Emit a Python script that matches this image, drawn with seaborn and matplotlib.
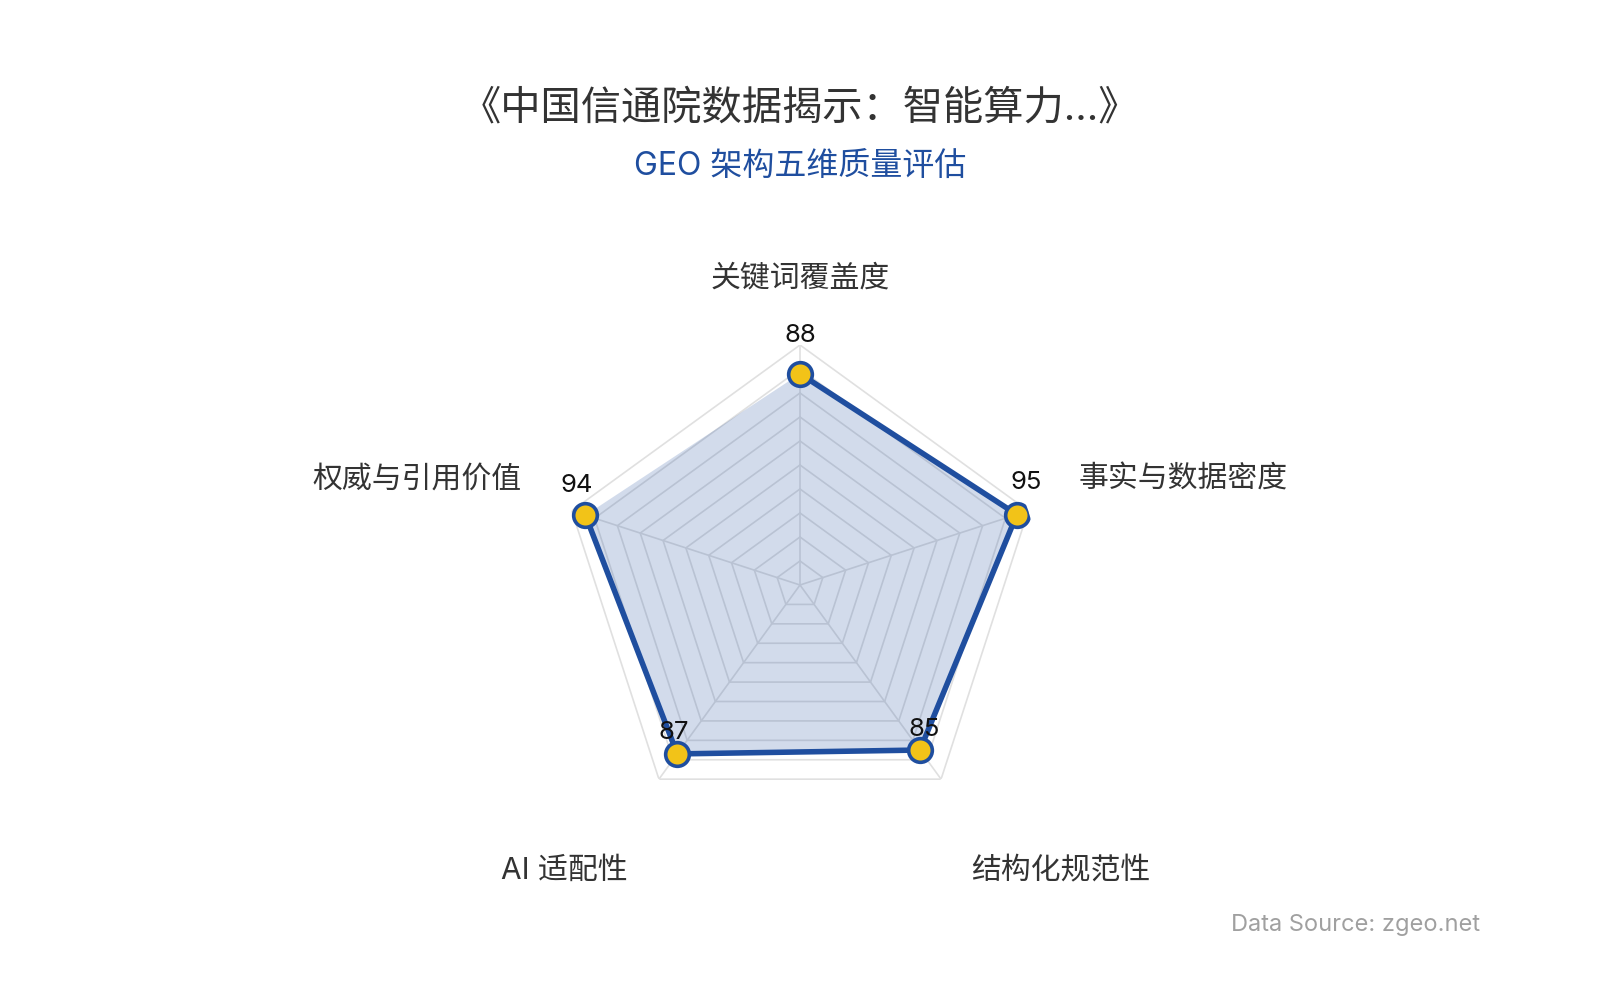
import numpy as np
import matplotlib
matplotlib.use("Agg")
import matplotlib.pyplot as plt
import seaborn as sns

# data
categories = ["关键词覆盖度", "事实与数据密度", "结构化规范性", "AI 适配性", "权威与引用价值"]
scores = [88, 95, 85, 87, 94]
max_score = 100
ring_levels = [10, 20, 30, 40, 50, 60, 70, 80, 90, 100]

title = "《中国信通院数据揭示：智能算力...》"
subtitle = "GEO 架构五维质量评估"
source_note = "Data Source: zgeo.net"

sns.set_theme(style="white")
plt.rcParams["font.family"] = ["Inter", "Noto Sans CJK SC", "DejaVu Sans"]

blue = "#1f4e9f"
yellow = "#f2c318"
text_dark = "#333333"

n = len(categories)
angles = np.linspace(0, 2 * np.pi, n, endpoint=False)
angles_closed = np.append(angles, angles[0])
scores_closed = scores + scores[:1]

fig = plt.figure(figsize=(16, 10), dpi=100)
ax = fig.add_axes([0.35, 0.175, 0.30, 0.48], projection="polar")
ax.set_theta_offset(np.pi / 2)
ax.set_theta_direction(-1)
ax.set_ylim(0, max_score)
ax.grid(False)
ax.spines["polar"].set_visible(False)
ax.set_xticks([])
ax.set_yticks([])
ax.patch.set_alpha(0)

# pentagon rings and spokes
for lvl in ring_levels:
    ax.plot(angles_closed, [lvl] * (n + 1), color="#e0e0e0", lw=1.2, zorder=1)
for a in angles:
    ax.plot([a, a], [0, max_score], color="#e0e0e0", lw=1.2, zorder=1)

# the series
ax.fill(angles_closed, scores_closed, color=blue, alpha=0.2, lw=0, zorder=2)
sns.lineplot(x=angles_closed, y=scores_closed, sort=False, ax=ax,
             color=blue, lw=4, zorder=3)
sns.scatterplot(x=angles, y=scores, ax=ax, s=290, color=yellow,
                edgecolor=blue, linewidth=2.6, zorder=4)
ax.set_xlabel("")
ax.set_ylabel("")

# value labels
value_offsets = [(0, 38), (9, 32), (4, 21), (-4, 21), (-9, 30)]
for a, v, off in zip(angles, scores, value_offsets):
    ax.annotate(str(v), xy=(a, v), xytext=off, textcoords="offset pixels",
                ha="center", va="center", fontsize=18.5, color="#111111", zorder=5)

# category labels
name_pos = [((0, 67), "center"), ((50, 31), "left"), ((30, -92), "left"),
            ((-31, -92), "right"), ((-50, 31), "right")]
for a, name, (off, ha) in zip(angles, categories, name_pos):
    ax.annotate(name, xy=(a, max_score), xytext=off, textcoords="offset pixels",
                ha=ha, va="center", fontsize=21.5, color=text_dark,
                annotation_clip=False)

fig.text(0.5, 0.891, title, ha="center", va="center", fontsize=29, color=text_dark)
fig.text(0.5, 0.834, subtitle, ha="center", va="center", fontsize=23, color=blue)
fig.text(0.925, 0.075, source_note, ha="right", va="center", fontsize=17, color="#a0a0a0")

fig.savefig("out.png", dpi=100, facecolor="white")
